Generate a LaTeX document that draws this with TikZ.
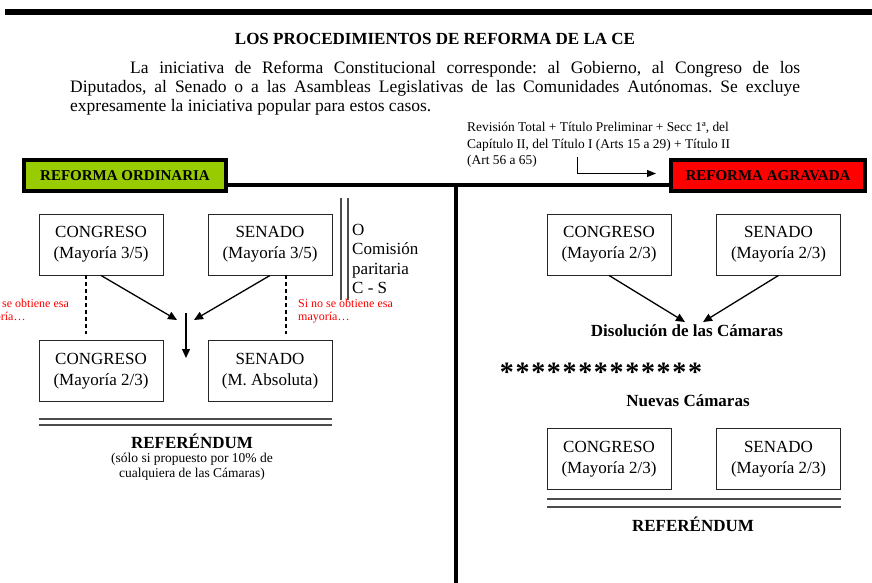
\documentclass[tikz,border=0pt]{standalone}
\usepackage{fontspec}
\setmainfont{Liberation Serif}
\usetikzlibrary{positioning,calc,arrows.meta}
\definecolor{verdeord}{RGB}{153,204,0}
\definecolor{rojoagr}{RGB}{255,0,0}
\frenchspacing
\tikzset{
    reforma/.style={
        x=1pt, y=-1pt,
        % Cajas de las Cámaras (rectangulares)
        camara/.style={draw=black!85, rectangle, align=center,
                       minimum width=124pt, minimum height=61pt,
                       inner sep=1pt, line width=0.9pt,
                       font=\fontsize{17}{21}\selectfont},
        % Cabeceras de los dos procedimientos
        cabecera/.style={draw, rectangle, line width=4pt,
                         minimum height=31pt, inner sep=0pt,
                         font=\bfseries\fontsize{15}{18}\selectfont},
        % Avisos en rojo
        aviso/.style={text=red, align=left, inner sep=0pt,
                      font=\fontsize{12}{13}\selectfont},
        etiqueta/.style={inner sep=0pt, font=\bfseries\fontsize{17}{20}\selectfont},
        flecha/.style={line width=1.3pt, -{Triangle[length=9pt,width=8pt]}},
        doble/.style={draw=black!70, line width=1.2pt}
    }
}

\begin{document}
\begin{tikzpicture}[reforma]
    \useasboundingbox (0,0) rectangle (872,583);
    % Cabecera del documento
    \coordinate (barraIzq) at (5,12);
    \coordinate (barraDer) at (872,12);
    \draw[line width=6pt] (barraIzq) -- (barraDer);
    \node[inner sep=0pt, anchor=base, font=\bfseries\fontsize{17}{20}\selectfont]
        (titulo) at (435,45) {LOS PROCEDIMIENTOS DE REFORMA DE LA CE};
    \node[anchor=north west, inner sep=0pt, text width=730pt, align=justify,
          font=\fontsize{17.5}{19}\selectfont] (iniciativa) at (70,61)
        {\hyphenpenalty=10000\hspace*{60pt}La iniciativa de Reforma Constitucional corresponde: al Gobierno, al Congreso de los\linebreak
         Diputados, al Senado o a las Asambleas Legislativas de las Comunidades Autónomas. Se excluye\linebreak
         expresamente la iniciativa popular para estos casos.};
    \node[anchor=north west, inner sep=0pt, align=left,
          font=\fontsize{13.4}{16.5}\selectfont] (revision) at (467,122)
        {Revisión Total + Título Preliminar + Secc 1ª, del\\
         Capítulo II, del Título I (Arts 15 a 29) + Título II\\
         (Art 56 a 65)};

    % Los dos procedimientos
    \node[cabecera, fill=verdeord, minimum width=202pt] (ordinaria) at (125,175.5) {REFORMA ORDINARIA};
    \node[cabecera, fill=rojoagr, minimum width=194pt] (agravada) at (768,175.5) {REFORMA AGRAVADA};
    \coordinate (giro) at (577,157);
    \draw[line width=1pt, -{Triangle[length=9pt,width=7pt]}] (giro) |- ([xshift=-13pt,yshift=2pt]agravada.west);
    \coordinate (ramaIzq) at (226,185);
    \coordinate (ramaDer) at (670,185);
    \coordinate (cruce) at (456,185);
    \coordinate (pie) at (456,583);
    \draw[line width=3.5pt] (ramaIzq) -- (ramaDer);
    \draw[line width=4pt] (cruce) -- (pie);

    % Reforma ordinaria
    \node[camara] (congresoA) at (101,244.5) {CONGRESO\\(Mayoría 3/5)};
    \node[camara] (senadoA) at (270,244.5) {SENADO\\(Mayoría 3/5)};
    \node[camara] (congresoB) at (101,371) {CONGRESO\\(Mayoría 2/3)};
    \node[camara] (senadoB) at (270,371) {SENADO\\(M. Absoluta)};
    \node[aviso, anchor=north west] (avisoC) at (-26,299) {Si no se obtiene esa\\mayoría…};
    \node[aviso, anchor=north west] (avisoS) at (298,299) {Si no se obtiene esa\\mayoría…};
    \node[anchor=north west, inner sep=0pt, align=left,
          font=\fontsize{17}{19.5}\selectfont] (comision) at (352,224)
        {O\\Comisión\\paritaria\\C - S};
    \draw[doble] (341,198) -- (341,300);
    \draw[doble] (348,198) -- (348,300);
    \draw[line width=1.3pt, dash pattern=on 4pt off 3pt]
        ([xshift=-15pt]congresoA.south) -- ([xshift=-15pt,yshift=6pt]congresoB.north);
    \draw[line width=1.3pt, dash pattern=on 4pt off 3pt]
        ([xshift=16pt]senadoA.south) -- ([xshift=16pt,yshift=6pt]senadoB.north);
    \coordinate (puntoC) at (177,320);
    \coordinate (puntoS) at (194,320);
    \coordinate (union) at (186,313);
    \coordinate (bajada) at (186,358);
    \draw[flecha] (congresoA.south) -- (puntoC);
    \draw[flecha] (senadoA.south) -- (puntoS);
    \draw[flecha] (union) -- (bajada);
    \draw[doble] ([yshift=-17pt]congresoB.south west) -- ([yshift=-17pt]senadoB.south east);
    \draw[doble] ([yshift=-23pt]congresoB.south west) -- ([yshift=-23pt]senadoB.south east);
    \node[etiqueta, anchor=base] (referendumA) at (192,448) {REFERÉNDUM};
    \node[anchor=north, inner sep=0pt, align=center,
          font=\fontsize{13.5}{14.5}\selectfont] (notaA) at (192,453)
        {(sólo si propuesto por 10\% de\\cualquiera de las Cámaras)};

    % Reforma agravada
    \node[camara] (congresoC) at (609,244.5) {CONGRESO\\(Mayoría 2/3)};
    \node[camara] (senadoC) at (778.5,244.5) {SENADO\\(Mayoría 2/3)};
    \node[etiqueta, anchor=base] (disolucion) at (687,336) {Disolución de las Cámaras};
    \draw[flecha] (congresoC.south) -- ([xshift=-2pt,yshift=2pt]disolucion.north);
    \draw[flecha] (senadoC.south) -- ([xshift=16pt,yshift=2pt]disolucion.north);
    \node[anchor=base, inner sep=0pt,
          font=\bfseries\fontsize{28}{28}\selectfont\addfontfeature{LetterSpace=6}]
        (estrellas) at (601,381) {*************};
    \node[etiqueta, anchor=base] (nuevas) at (688,406) {Nuevas Cámaras};
    \node[camara] (congresoD) at (609,459) {CONGRESO\\(Mayoría 2/3)};
    \node[camara] (senadoD) at (778.5,459) {SENADO\\(Mayoría 2/3)};
    \draw[doble] ([yshift=-9pt]congresoD.south west) -- ([yshift=-9pt]senadoD.south east);
    \draw[doble] ([yshift=-17pt]congresoD.south west) -- ([yshift=-17pt]senadoD.south east);
    \node[etiqueta, anchor=base] (referendumB) at (693,531) {REFERÉNDUM};
\end{tikzpicture}
\end{document}
